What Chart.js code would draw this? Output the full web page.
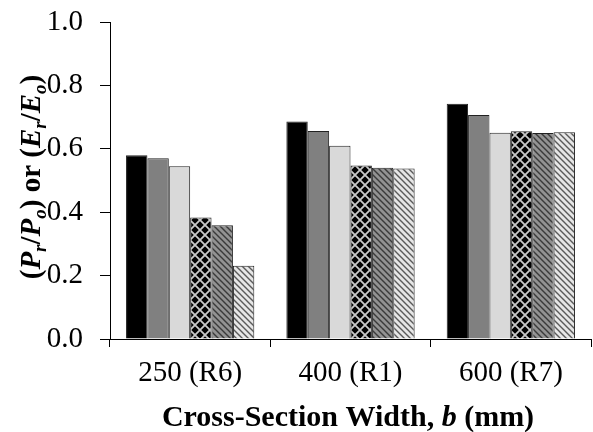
<!DOCTYPE html>
<html>
<head>
<meta charset="utf-8">
<script src="https://cdn.jsdelivr.net/npm/chart.js@4.4.1/dist/chart.umd.min.js"></script>
<style>
  html, body { margin: 0; padding: 0; background: #fff; }
  #wrap { width: 593px; height: 432px; }
  .warm { font-family: "Liberation Serif"; position: absolute; left: -9999px; }
</style>
</head>
<body>
<span class="warm">0.2 <b>b</b> <i>x</i> <b><i>P</i></b></span>
<div id="wrap"><canvas id="c" width="593" height="432"></canvas></div>
<script>
// Cross-section widths (categories)
const categories = ['250 (R6)', '400 (R1)', '600 (R7)'];

// Six ratio series per section width
const series1 = [0.580, 0.686, 0.742];
const series2 = [0.570, 0.656, 0.707];
const series3 = [0.545, 0.610, 0.651];
const series4 = [0.383, 0.547, 0.655];
const series5 = [0.359, 0.540, 0.650];
const series6 = [0.231, 0.538, 0.652];

// Y-axis tick values
const yTicks = [0.0, 0.2, 0.4, 0.6, 0.8, 1.0];

// Fill patterns for the hatched bars
function crossPattern() {
  const s = 10, cv = document.createElement('canvas');
  cv.width = s; cv.height = s;
  const g = cv.getContext('2d');
  g.fillStyle = '#000'; g.fillRect(0, 0, s, s);
  g.strokeStyle = '#c8c8c8'; g.lineWidth = 1.8;
  g.beginPath();
  g.moveTo(-1, -1); g.lineTo(s + 1, s + 1);
  g.moveTo(s + 1, -1); g.lineTo(-1, s + 1);
  g.stroke();
  return g.createPattern(cv, 'repeat');
}
function stripePattern(bg, fg, w) {
  const s = 6, cv = document.createElement('canvas');
  cv.width = s; cv.height = s;
  const g = cv.getContext('2d');
  g.fillStyle = bg; g.fillRect(0, 0, s, s);
  g.strokeStyle = fg; g.lineWidth = w;
  g.beginPath();
  g.moveTo(-1, -1); g.lineTo(s + 1, s + 1);
  g.moveTo(-1, s - 1); g.lineTo(1, s + 1);
  g.moveTo(s - 1, -1); g.lineTo(s + 1, 1);
  g.stroke();
  return g.createPattern(cv, 'repeat');
}

const FONT = "'Liberation Serif'";
const TICK_SIZE = 29;

// Draws the axis titles with italic symbols and subscripts
const titlesPlugin = {
  id: 'titles',
  afterDraw(chart) {
    const ctx = chart.ctx;
    const fontOf = (r, big, small) => (r.it ? 'italic ' : '') + 'bold ' + (r.sub ? small : big) + 'px ' + FONT;
    const drawRuns = (runs, cx, cy, big, small) => {
      let total = 0;
      runs.forEach(r => {
        ctx.font = fontOf(r, big, small);
        r.w = ctx.measureText(r.t).width;
        total += r.w;
      });
      let x = cx - total / 2;
      ctx.textBaseline = 'alphabetic';
      ctx.textAlign = 'left';
      runs.forEach(r => {
        ctx.font = fontOf(r, big, small);
        ctx.fillText(r.t, x, cy + (r.sub ? 6 : 0));
        x += r.w;
      });
    };
    ctx.save();
    ctx.fillStyle = '#000';
    // x title
    drawRuns([
      { t: 'Cross-Section Width, ' },
      { t: 'b', it: true },
      { t: ' (mm)' }
    ], 348, 426, 30, 20);
    // y title
    ctx.translate(40, 177);
    ctx.rotate(-Math.PI / 2);
    drawRuns([
      { t: '(' }, { t: 'P', it: true }, { t: 'r', it: true, sub: true },
      { t: '/' }, { t: 'P', it: true }, { t: 'o', it: true, sub: true },
      { t: ') or (' }, { t: 'E', it: true }, { t: 'r', it: true, sub: true },
      { t: '/' }, { t: 'E', it: true }, { t: 'o', it: true, sub: true },
      { t: ')' }
    ], 0, 0, 29, 19);
    ctx.restore();
  }
};

function build() {
  const ctx = document.getElementById('c').getContext('2d');
  const border = '#222';
  const mk = (data, bg) => ({ data, backgroundColor: bg, borderColor: border, borderWidth: 1 });

  new Chart(ctx, {
    type: 'bar',
    data: {
      labels: categories,
      datasets: [
        mk(series1, '#000000'),
        mk(series2, '#808080'),
        mk(series3, '#d9d9d9'),
        mk(series4, crossPattern()),
        mk(series5, stripePattern('#929292', '#3a3a3a', 1.4)),
        mk(series6, stripePattern('#e6e6e6', '#5a5a5a', 1.4))
      ]
    },
    options: {
      responsive: false,
      animation: false,
      devicePixelRatio: 1,
      layout: { padding: { top: 22, right: 2, left: 0, bottom: 0 } },
      datasets: { bar: { barPercentage: 1.0, categoryPercentage: 0.8 } },
      plugins: { legend: { display: false }, tooltip: { enabled: false } },
      scales: {
        x: {
          grid: { offset: true, drawOnChartArea: false, drawTicks: true, tickLength: 8, color: '#000', tickColor: '#000' },
          border: { color: '#000', width: 1 },
          ticks: { color: '#000', font: { family: FONT, size: TICK_SIZE }, padding: 9 },
          afterFit: s => { s.height = 93; s.paddingLeft = 0; s.paddingRight = 0; }
        },
        y: {
          min: 0, max: 1.0,
          afterBuildTicks: s => { s.ticks = yTicks.map(v => ({ value: v })); },
          grid: { drawOnChartArea: false, drawTicks: true, tickLength: 10, color: '#000', tickColor: '#000' },
          border: { color: '#000', width: 1 },
          ticks: { color: '#000', font: { family: FONT, size: TICK_SIZE }, padding: 17, callback: v => Number(v).toFixed(1) },
          afterFit: s => { s.width = 110; s.paddingTop = 0; s.paddingBottom = 0; }
        }
      }
    },
    plugins: [titlesPlugin]
  });
}

Promise.all([
  document.fonts.load("29px 'Liberation Serif'"),
  document.fonts.load("bold 29px 'Liberation Serif'"),
  document.fonts.load("italic bold 29px 'Liberation Serif'")
]).then(build, build);
</script>
</body>
</html>
